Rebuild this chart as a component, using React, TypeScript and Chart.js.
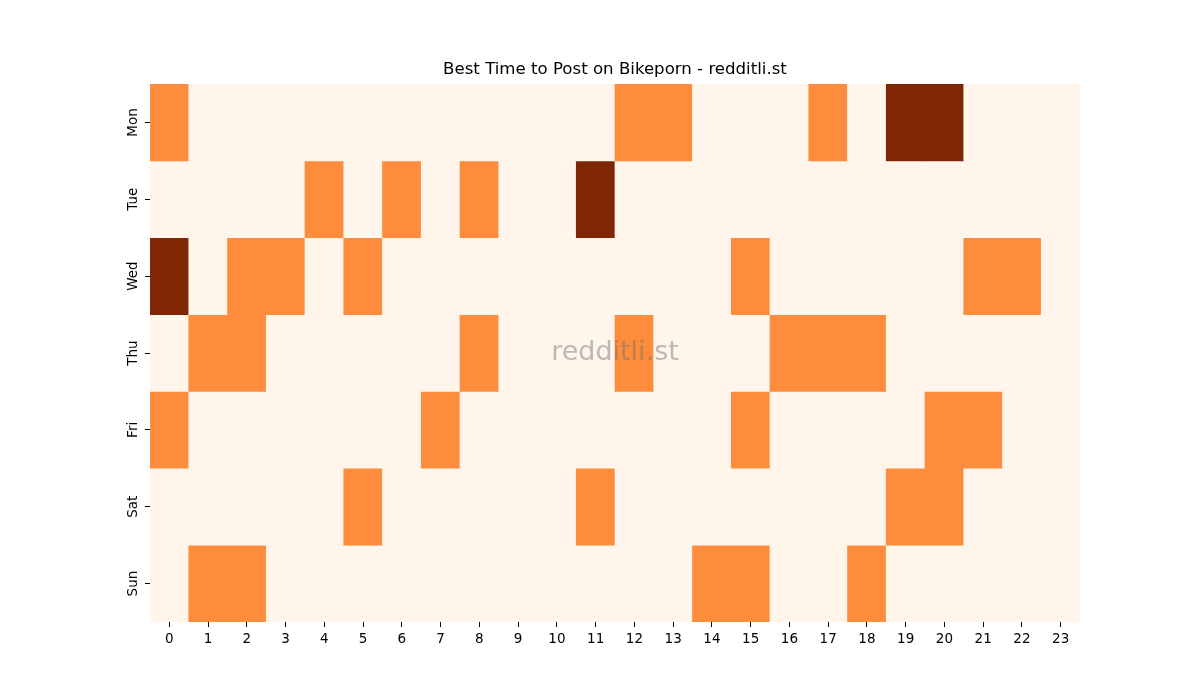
import React, { useEffect, useRef } from 'react';
import { Chart, registerables } from 'chart.js';

Chart.register(...registerables);

const days = ['Mon', 'Tue', 'Wed', 'Thu', 'Fri', 'Sat', 'Sun'];
const hours = ['0', '1', '2', '3', '4', '5', '6', '7', '8', '9', '10', '11', '12', '13', '14', '15', '16', '17', '18', '19', '20', '21', '22', '23'];

// 0 = none, 1 = some, 2 = best
const monValues = [1, 0, 0, 0, 0, 0, 0, 0, 0, 0, 0, 0, 1, 1, 0, 0, 0, 1, 0, 2, 2, 0, 0, 0];
const tueValues = [0, 0, 0, 0, 1, 0, 1, 0, 1, 0, 0, 2, 0, 0, 0, 0, 0, 0, 0, 0, 0, 0, 0, 0];
const wedValues = [2, 0, 1, 1, 0, 1, 0, 0, 0, 0, 0, 0, 0, 0, 0, 1, 0, 0, 0, 0, 0, 1, 1, 0];
const thuValues = [0, 1, 1, 0, 0, 0, 0, 0, 1, 0, 0, 0, 1, 0, 0, 0, 1, 1, 1, 0, 0, 0, 0, 0];
const friValues = [1, 0, 0, 0, 0, 0, 0, 1, 0, 0, 0, 0, 0, 0, 0, 1, 0, 0, 0, 0, 1, 1, 0, 0];
const satValues = [0, 0, 0, 0, 0, 1, 0, 0, 0, 0, 0, 1, 0, 0, 0, 0, 0, 0, 0, 1, 1, 0, 0, 0];
const sunValues = [0, 1, 1, 0, 0, 0, 0, 0, 0, 0, 0, 0, 0, 0, 1, 1, 0, 0, 1, 0, 0, 0, 0, 0];

const rows = [monValues, tueValues, wedValues, thuValues, friValues, satValues, sunValues];
const palette = ['#fff5eb', '#fd8d3c', '#7f2704'];

const title = 'Best Time to Post on Bikeporn - redditli.st';
const font = "'DejaVu Sans', sans-serif";

// title centred over the heatmap, plus the faint site watermark
const overlay = {
    id: 'overlay',
    afterDatasetsDraw(chart: any) {
        const { ctx, chartArea } = chart;
        const cx = (chartArea.left + chartArea.right) / 2;
        ctx.save();
        ctx.textAlign = 'center';
        ctx.textBaseline = 'middle';
        ctx.font = `27px ${font}`;
        ctx.fillStyle = 'rgba(110, 110, 110, 0.45)';
        ctx.fillText('redditli.st', cx, (chartArea.top + chartArea.bottom) / 2);
        ctx.font = `16.6px ${font}`;
        ctx.fillStyle = '#000';
        ctx.fillText(title, cx, chartArea.top - 14);
        ctx.restore();
    }
};

export default function App() {
    const chartRef = useRef<HTMLCanvasElement>(null);

    useEffect(() => {
        document.body.style.margin = '0';
        const ctx = chartRef.current?.getContext('2d');
        if (!ctx) return;

        const chart = new Chart(ctx, {
            type: 'bar',
            data: {
                labels: hours,
                datasets: rows.map((row, r) => ({
                    label: days[r],
                    data: row.map(() => [r, r + 1] as [number, number]),
                    backgroundColor: row.map(v => palette[v]),
                    borderWidth: 0,
                    barPercentage: 1,
                    categoryPercentage: 1,
                    grouped: false
                }))
            },
            options: {
                animation: false,
                responsive: false,
                layout: { padding: { top: 84, left: 0, right: 120, bottom: 0 } },
                plugins: {
                    legend: { display: false },
                    tooltip: { enabled: false },
                    title: { display: false }
                },
                scales: {
                    x: {
                        offset: true,
                        border: { display: false },
                        grid: { display: true, drawOnChartArea: false, drawTicks: true, tickLength: 5, offset: false, color: '#000' },
                        ticks: { color: '#000', font: { family: font, size: 13.5 }, padding: 4, maxRotation: 0, autoSkip: false },
                        afterFit: (scale: any) => { scale.height = 78; }
                    },
                    y: {
                        type: 'linear',
                        min: 0,
                        max: 7,
                        reverse: true,
                        border: { display: false },
                        grid: { display: true, drawOnChartArea: false, drawTicks: true, tickLength: 5, color: '#000' },
                        afterBuildTicks: (scale: any) => {
                            scale.ticks = days.map((_, i) => ({ value: i + 0.5 }));
                        },
                        ticks: {
                            color: '#000',
                            font: { family: font, size: 13.5 },
                            padding: -3,
                            crossAlign: 'center',
                            minRotation: 90,
                            maxRotation: 90,
                            callback: (v: any) => days[Math.floor(Number(v))]
                        },
                        afterFit: (scale: any) => { scale.width = 150; }
                    }
                }
            },
            plugins: [overlay]
        });

        return () => chart.destroy();
    }, []);

    return (
        <div style={{ width: 1200, height: 700, background: '#fff' }}>
            <canvas ref={chartRef} width={1200} height={700} style={{ display: 'block' }}></canvas>
        </div>
    );
}
